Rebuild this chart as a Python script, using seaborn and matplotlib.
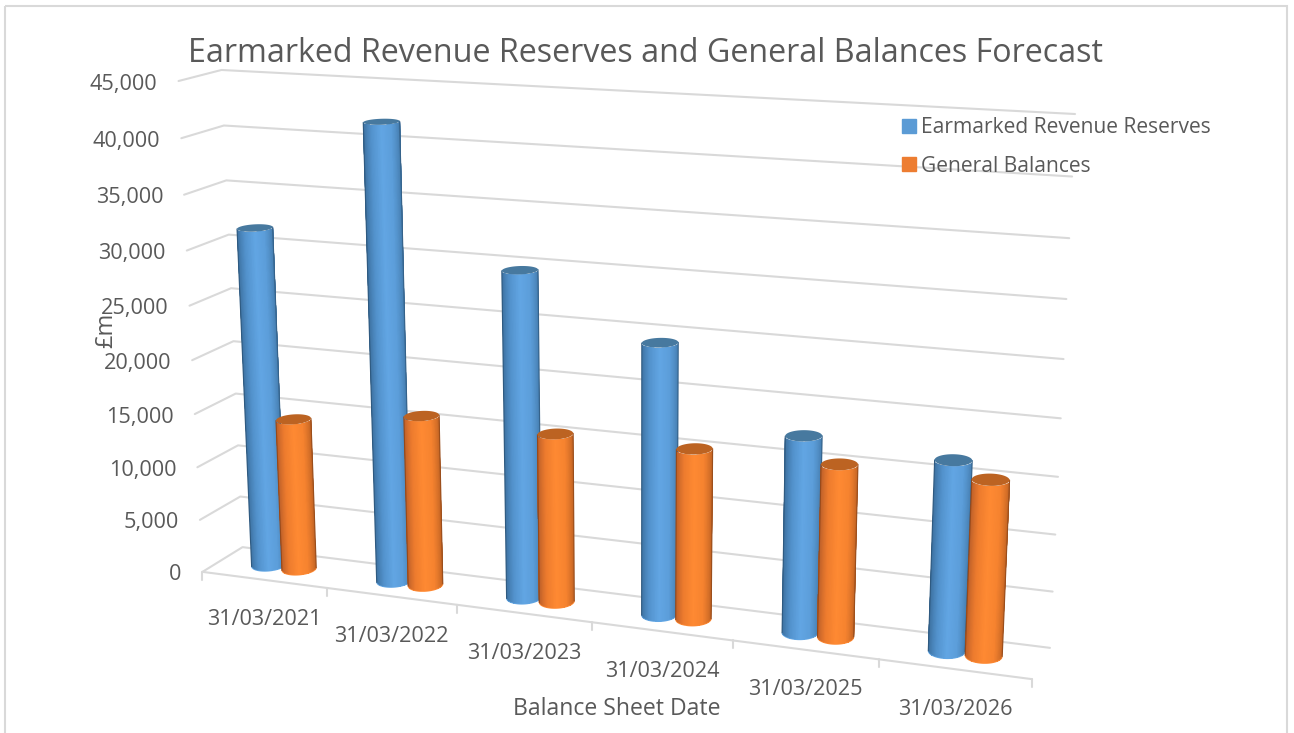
import numpy as np
import pandas as pd
import matplotlib.pyplot as plt
import seaborn as sns
from matplotlib.colors import LinearSegmentedColormap
from matplotlib.lines import Line2D
from matplotlib.patches import Polygon, Rectangle

dates = ['31/03/2021', '31/03/2022', '31/03/2023', '31/03/2024', '31/03/2025', '31/03/2026']
earmarked = [31650, 41820, 29710, 24400, 17480, 16670]
general = [14280, 15820, 15430, 15370, 15320, 15330]
y_ticks = [0, 5000, 10000, 15000, 20000, 25000, 30000, 35000, 40000, 45000]
y_max = 45000

sns.set_theme(style='white')
plt.rcParams['font.family'] = ['Open Sans', 'DejaVu Sans']
GREY = '#595959'
GRID = '#D9D9D9'

# perspective of the 3d chart, fitted on the corners of the walls
# (across, depth, height) -> pixel
corners = [
    ((0, 0, 0), (242, 547)), ((1, 0, 0), (1050, 648)),
    ((0, 0, 1), (222, 70)), ((1, 0, 1), (1075, 114)),
    ((0, 1, 0), (203, 572)), ((1, 1, 0), (1032, 679)),
    ((0, 1, 1), (178, 81)),
]
A, b = [], []
for (X, Y, Z), (px, py) in corners:
    A.append([X, Y, Z, 1, 0, 0, 0, 0, -px*X, -px*Y, -px*Z])
    A.append([0, 0, 0, 0, X, Y, Z, 1, -py*X, -py*Y, -py*Z])
    b += [px, py]
sol = np.linalg.lstsq(np.array(A, float), np.array(b, float), rcond=None)[0]
P = np.append(sol, 1).reshape(3, 4)


def project(u, w, v):
    u, w, v = np.broadcast_arrays(u, w, v)
    pts = np.stack([u, w, v, np.ones_like(u)], axis=-1).astype(float)
    q = pts @ P.T
    return q[..., 0] / q[..., 2], q[..., 1] / q[..., 2]


fig = plt.figure(figsize=(12.94, 7.33), dpi=100)
ax = fig.add_axes([0, 0, 1, 1])

# outer chart frame
ax.add_patch(Rectangle((5, 6), 1282, 740, fill=False, ec=GRID, lw=1.5))

# grid lines: side wall + back wall
rows = []
for t in y_ticks:
    x, y = project([0, 0, 1], [1, 0, 0], t / y_max)
    rows += [{'x': a, 'y': c, 'line': f'g{t}'} for a, c in zip(x, y)]
# floor front edge and tick marks
x, y = project([0, 1], 1, 0)
rows += [{'x': a, 'y': c, 'line': 'front'} for a, c in zip(x, y)]
for i in range(len(dates) + 1):
    x, y = project(i / len(dates), 1, 0)
    rows += [{'x': float(x), 'y': float(y), 'line': f't{i}'},
             {'x': float(x), 'y': float(y) + 8, 'line': f't{i}'}]
grid_df = pd.DataFrame(rows)
sns.lineplot(data=grid_df, x='x', y='y', units='line', estimator=None, sort=False,
             color=GRID, lw=1.5, legend=False, ax=ax)
ax.set_xlim(0, 1294)
ax.set_ylim(733, 0)
ax.axis('off')

blue_map = LinearSegmentedColormap.from_list('b', ['#2F5A80', '#3F74A4', '#5393CD', '#62A6E4', '#5C9EDA', '#4A84B8', '#35628A'])
orange_map = LinearSegmentedColormap.from_list('o', ['#96491A', '#C0622A', '#EE7C2E', '#FF8A33', '#F6832F', '#CC6A26', '#9A4E1C'])
blue_cap = '#47799F'
orange_cap = '#BC6322'

offset_u = 0.0205
radius_u = 0.0198
radius_w = 0.23
n = len(dates)
theta = np.linspace(0, 2 * np.pi, 181)
strips = 48


def draw_cylinder(uc, value, cmap, cap, z):
    top = value / y_max
    ex, ey = project(uc + radius_u * np.cos(theta), 0.5 + radius_w * np.sin(theta), 0.0)
    i_l, i_r = np.argmin(ex), np.argmax(ex)
    # front arc of the circle, from left silhouette to right silhouette
    a0, a1 = theta[i_l], theta[i_r]
    if a1 > a0:
        a1 -= 2 * np.pi
    if np.sin((a0 + a1) / 2) < 0:
        a1 += 2 * np.pi
    arc = np.linspace(a0, a1, strips + 1)
    us = uc + radius_u * np.cos(arc)
    ws = 0.5 + radius_w * np.sin(arc)
    xb, yb = project(us, ws, 0.0)
    xt, yt = project(us, ws, top)
    # mesh a bit larger than the body, then cut to the exact outline
    xm0, ym0 = project(uc + 1.1 * radius_u * np.cos(arc), 0.5 + 1.1 * radius_w * np.sin(arc), -0.012)
    xm1, ym1 = project(uc + 1.1 * radius_u * np.cos(arc), 0.5 + 1.1 * radius_w * np.sin(arc), top)
    C = np.tile(np.linspace(0, 1, strips + 1), (2, 1))
    mesh = ax.pcolormesh(np.vstack([xm0, xm1]), np.vstack([ym0, ym1]), C, cmap=cmap,
                         shading='gouraud', vmin=0, vmax=1, zorder=z)
    outline = Polygon(np.column_stack([np.r_[xb, xt[::-1]], np.r_[yb, yt[::-1]]]),
                      transform=ax.transData)
    mesh.set_clip_path(outline)
    ax.plot(xb, yb, color=cmap(0.5), lw=0.6, zorder=z)
    ax.plot([xb[0], xt[0]], [yb[0], yt[0]], color=cmap(0.0), lw=0.8, zorder=z)
    ax.plot([xb[-1], xt[-1]], [yb[-1], yt[-1]], color=cmap(1.0), lw=0.8, zorder=z)
    cx, cy = project(uc + radius_u * np.cos(theta), 0.5 + radius_w * np.sin(theta), top)
    ax.fill(cx, cy, color=cap, lw=0, zorder=z + 0.1)


for i in range(n):
    uc = (i + 0.5) / n
    draw_cylinder(uc - offset_u, earmarked[i], blue_map, blue_cap, 3 + i)
    draw_cylinder(uc + offset_u, general[i], orange_map, orange_cap, 3.5 + i)

# axis labels
ax.text(106, 330, '£m', ha='center', va='center', rotation=90, fontsize=17, color=GREY, zorder=20)
for t in y_ticks:
    x, y = project(0, 1, t / y_max)
    ax.text(x - 21, y + 3, f'{t:,}', ha='right', va='center', fontsize=15.6, color=GREY, zorder=20)
for i, d in enumerate(dates):
    x, y = project((i + 0.5) / n, 1, 0)
    ax.text(x, y + 40, d, ha='center', va='center', fontsize=15.6, color=GREY, zorder=20)

ax.text(646, 53, 'Earmarked Revenue Reserves and General Balances Forecast',
        ha='center', va='center', fontsize=23.2, color=GREY, zorder=20)
ax.text(617, 709, 'Balance Sheet Date', ha='center', va='center', fontsize=16.6, color=GREY, zorder=20)

handles = [Line2D([], [], ls='none', marker='s', ms=10, color='#5B9BD5'),
           Line2D([], [], ls='none', marker='s', ms=10, color='#ED7D31')]
leg = ax.legend(handles, ['Earmarked Revenue Reserves', 'General Balances'],
                loc='upper left', bbox_to_anchor=(899 / 1294, 1 - 117 / 733),
                frameon=False, fontsize=15.1, labelcolor=GREY, handlelength=1,
                handletextpad=0.05, labelspacing=0.85, borderpad=0, borderaxespad=0)
leg.set_zorder(30)

fig.savefig('out.png', dpi=100)
